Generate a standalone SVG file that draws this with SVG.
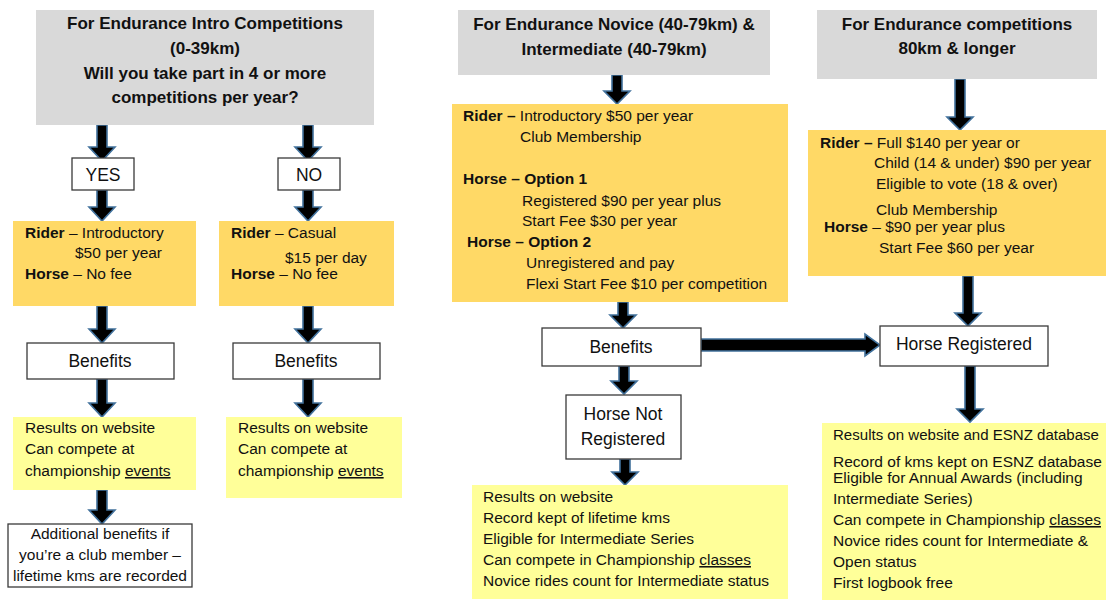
<svg xmlns="http://www.w3.org/2000/svg" width="1106" height="601" viewBox="0 0 1106 601">
<style>
text{font-family:"Liberation Sans",Arial,sans-serif;fill:#111}
.hd{font-size:17px;font-weight:bold;text-anchor:middle}
.bd{font-size:15.5px}
.lb{font-size:17.5px;text-anchor:middle}
.b{font-weight:bold}
.u{text-decoration:underline}
.grey{fill:#d9d9d9}
.org{fill:#ffd966}
.yel{fill:#ffff99}
.box{fill:#fff;stroke:#3a3a3a;stroke-width:1.3}
.arr{fill:#000;stroke:#41719c;stroke-width:1.6;stroke-linejoin:miter}
</style>
<rect width="1106" height="601" fill="#fff"/>

<g id="connectors">
<polygon class="arr" points="97,125 107,125 107,147 115,147 102,161 89,147 97,147"/>
<polygon class="arr" points="303,125 313,125 313,147 321,147 308,161 295,147 303,147"/>
<polygon class="arr" points="97,190 107,190 107,207 115,207 102,221 89,207 97,207"/>
<polygon class="arr" points="303,190 313,190 313,207 321,207 308,221 295,207 303,207"/>
<polygon class="arr" points="97,306 107,306 107,329 115,329 102,343 89,329 97,329"/>
<polygon class="arr" points="303,306 313,306 313,329 321,329 308,343 295,329 303,329"/>
<polygon class="arr" points="97,379 107,379 107,403 115,403 102,417 89,403 97,403"/>
<polygon class="arr" points="303,379 313,379 313,403 321,403 308,417 295,403 303,403"/>
<polygon class="arr" points="97,490 107,490 107,510 115,510 102,524 89,510 97,510"/>
<polygon class="arr" points="612,75 622,75 622,91 630,91 617,104 604,91 612,91"/>
<polygon class="arr" points="618,302 628,302 628,315 636,315 623,328 610,315 618,315"/>
<polygon class="arr" points="619,366 629,366 629,381 637,381 624,394 611,381 619,381"/>
<polygon class="arr" points="620,459 630,459 630,472 638,472 625,485 612,472 620,472"/>
<polygon class="arr" points="955,79 965,79 965,117 973,117 960,130 947,117 955,117"/>
<polygon class="arr" points="963,276 973,276 973,313 981,313 968,326 955,313 963,313"/>
<polygon class="arr" points="965,366 975,366 975,409 983,409 970,422 957,409 965,409"/>
<polygon class="arr" points="701,339 865,339 865,334 880,345 865,356 865,351 701,351"/>
</g>

<g id="intro-header">
<rect class="grey" x="36" y="10" width="338" height="115"/>
<text class="hd" x="205" y="29">For Endurance Intro Competitions</text>
<text class="hd" x="205" y="54">(0-39km)</text>
<text class="hd" x="205" y="79">Will you take part in 4 or more</text>
<text class="hd" x="205" y="103">competitions per year?</text>
</g>

<g id="yes">
<rect class="box" x="72" y="158" width="62" height="32"/>
<text class="lb" x="103" y="181">YES</text>
</g>
<g id="no">
<rect class="box" x="278" y="158" width="62" height="32"/>
<text class="lb" x="309" y="181">NO</text>
</g>

<g id="intro-fees-yes">
<rect class="org" x="13" y="221" width="183" height="85"/>
<text class="bd" x="25" y="238"><tspan class="b">Rider</tspan> – Introductory</text>
<text class="bd" x="75" y="258">$50 per year</text>
<text class="bd" x="25" y="279"><tspan class="b">Horse</tspan> – No fee</text>
</g>
<g id="intro-fees-no">
<rect class="org" x="219" y="221" width="175" height="85"/>
<text class="bd" x="231" y="238"><tspan class="b">Rider</tspan> – Casual</text>
<text class="bd" x="285" y="263">$15 per day</text>
<text class="bd" x="231" y="279"><tspan class="b">Horse</tspan> – No fee</text>
</g>

<g id="benefits-yes">
<rect class="box" x="27" y="343" width="147" height="36"/>
<text class="lb" x="100" y="367">Benefits</text>
</g>
<g id="benefits-no">
<rect class="box" x="233" y="343" width="147" height="36"/>
<text class="lb" x="306" y="367">Benefits</text>
</g>

<g id="intro-results-yes">
<rect class="yel" x="13" y="417" width="183" height="73"/>
<text class="bd" x="25" y="433">Results on website</text>
<text class="bd" x="25" y="454">Can compete at</text>
<text class="bd" x="25" y="476">championship <tspan class="u">events</tspan></text>
</g>
<g id="intro-results-no">
<rect class="yel" x="226" y="417" width="176" height="81"/>
<text class="bd" x="238" y="433">Results on website</text>
<text class="bd" x="238" y="454">Can compete at</text>
<text class="bd" x="238" y="476">championship <tspan class="u">events</tspan></text>
</g>

<g id="additional">
<rect class="box" x="8" y="524" width="184" height="63"/>
<text class="bd" x="100" y="539" text-anchor="middle">Additional benefits if</text>
<text class="bd" x="100" y="560" text-anchor="middle">you’re a club member –</text>
<text class="bd" x="100" y="581" text-anchor="middle">lifetime kms are recorded</text>
</g>

<g id="novice-header">
<rect class="grey" x="458" y="10" width="312" height="65"/>
<text class="hd" x="614" y="30">For Endurance Novice (40-79km) &amp;</text>
<text class="hd" x="614" y="55">Intermediate (40-79km)</text>
</g>

<g id="novice-fees">
<rect class="org" x="452" y="104" width="336" height="198"/>
<text class="bd" x="463" y="121"><tspan class="b">Rider – </tspan>Introductory $50 per year</text>
<text class="bd" x="520" y="142">Club Membership</text>
<text class="bd b" x="463" y="184">Horse – Option 1</text>
<text class="bd" x="522" y="206">Registered $90 per year plus</text>
<text class="bd" x="522" y="226">Start Fee $30 per year</text>
<text class="bd b" x="467" y="247">Horse – Option 2</text>
<text class="bd" x="526" y="268">Unregistered and pay</text>
<text class="bd" x="526" y="289">Flexi Start Fee $10 per competition</text>
</g>

<g id="novice-benefits">
<rect class="box" x="542" y="328" width="159" height="38"/>
<text class="lb" x="621" y="353">Benefits</text>
</g>

<g id="horse-not-registered">
<rect class="box" x="566" y="395" width="115" height="64"/>
<text class="lb" x="623" y="420">Horse Not</text>
<text class="lb" x="623" y="445">Registered</text>
</g>

<g id="not-registered-results">
<rect class="yel" x="472" y="485" width="316" height="114"/>
<text class="bd" x="483" y="502">Results on website</text>
<text class="bd" x="483" y="523">Record kept of lifetime kms</text>
<text class="bd" x="483" y="544">Eligible for Intermediate Series</text>
<text class="bd" x="483" y="565">Can compete in Championship <tspan class="u">classes</tspan></text>
<text class="bd" x="483" y="586">Novice rides count for Intermediate status</text>
</g>

<g id="long-header">
<rect class="grey" x="817" y="10" width="280" height="69"/>
<text class="hd" x="957" y="30">For Endurance competitions</text>
<text class="hd" x="957" y="54">80km &amp; longer</text>
</g>

<g id="long-fees">
<rect class="org" x="808" y="130" width="298" height="146"/>
<text class="bd" x="820" y="148"><tspan class="b">Rider – </tspan>Full $140 per year or</text>
<text class="bd" x="874" y="168">Child (14 &amp; under) $90 per year</text>
<text class="bd" x="876" y="189">Eligible to vote (18 &amp; over)</text>
<text class="bd" x="876" y="215">Club Membership</text>
<text class="bd" x="824" y="232"><tspan class="b">Horse</tspan> – $90 per year plus</text>
<text class="bd" x="879" y="253">Start Fee $60 per year</text>
</g>

<g id="horse-registered">
<rect class="box" x="880" y="326" width="168" height="40"/>
<text class="lb" x="964" y="350">Horse Registered</text>
</g>

<g id="registered-results">
<rect class="yel" x="822" y="423" width="284" height="177"/>
<text class="bd" x="833" y="440" textLength="266" lengthAdjust="spacingAndGlyphs">Results on website and ESNZ database</text>
<text class="bd" x="833" y="467">Record of kms kept on ESNZ database</text>
<text class="bd" x="833" y="483">Eligible for Annual Awards (including</text>
<text class="bd" x="833" y="504">Intermediate Series)</text>
<text class="bd" x="833" y="525">Can compete in Championship <tspan class="u">classes</tspan></text>
<text class="bd" x="833" y="546">Novice rides count for Intermediate &amp;</text>
<text class="bd" x="833" y="567">Open status</text>
<text class="bd" x="833" y="588">First logbook free</text>
</g>
</svg>
